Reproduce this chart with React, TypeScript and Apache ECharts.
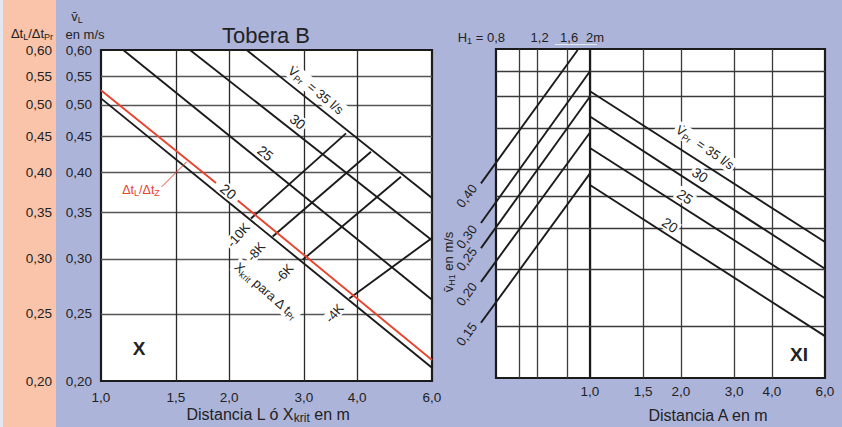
import React, { useEffect, useRef } from "react";
import * as echarts from "echarts";

const FONT = '"Liberation Sans", Arial, Helvetica, sans-serif';
const TEXT = "#222222";
const INK = "#1b1b1b";
const RED = "#e8432d";

// ---------- Left panel X : Tobera B (log L in m  vs  log v in m/s) ----------
const yTicks = [0.2, 0.25, 0.3, 0.35, 0.4, 0.45, 0.5, 0.55, 0.6];
const yTickLabels = ["0,20", "0,25", "0,30", "0,35", "0,40", "0,45", "0,50", "0,55", "0,60"];
const xTicks = [1.0, 1.5, 2.0, 3.0, 4.0, 6.0];
const xTickLabels = ["1,0", "1,5", "2,0", "3,0", "4,0", "6,0"];
const xGridL = [1.5, 2.0, 3.0, 4.0];
const yGridL = [0.25, 0.3, 0.35, 0.4, 0.45, 0.5, 0.55];

// V_Pr lines (l/s)
const vpr20L = [[1.0, 0.511], [6.0, 0.209]];
const vpr25L = [[1.128, 0.6], [6.0, 0.262]];
const vpr30L = [[1.619, 0.6], [6.0, 0.319]];
const vpr35L = [[2.2, 0.6], [6.0, 0.367]];
// Δt_L/Δt_Z (red), broken where the "20" label sits
const ratioLineA = [[1.0, 0.525], [1.864, 0.386]];
const ratioLineB = [[2.096, 0.364], [6.0, 0.2145]];
const ratioLeader = [[1.389, 0.381], [1.59, 0.414]];
// X_krit lines for Δt_Pr
const krit10 = [[2.252, 0.343], [3.767, 0.455]];
const krit8 = [[2.533, 0.323], [4.313, 0.428]];
const krit6 = [[2.98, 0.299], [5.073, 0.394]];
const krit4 = [[3.835, 0.263], [6.0, 0.3215]];

// label anchors (data coords)
const vprLabelsL = [
  { t: "35", at: [3.2, 0.525] },
  { t: "30", at: [2.9, 0.473] },
  { t: "25", at: [2.434, 0.426] },
  { t: "20", at: [1.992, 0.375] },
];
const kritLabels = [
  { t: "-10K", at: [2.103, 0.3247] },
  { t: "-8K", at: [2.314, 0.3072] },
  { t: "-6K", at: [2.697, 0.286] },
  { t: "-4K", at: [3.536, 0.2504] },
];
const kritTitleAt = [2.443, 0.2697];
const ratioLabelAt = [1.242, 0.377];

// ---------- Right panel XI ----------
const xGridR = [1.5, 2.0, 3.0, 4.0];
const yGridR = [0.557, 0.512, 0.461, 0.401, 0.367, 0.33, 0.288, 0.238];
const h1Grid = [1.0, 1.2, 1.6];
const h1Ticks = [1.2, 1.6];
const h1TickLabels = ["1,2", "1,6"];

const vpr35R = [[1.0, 0.521], [6.0, 0.315]];
const vpr30R = [[1.0, 0.479], [6.0, 0.288]];
const vpr25R = [[1.0, 0.431], [6.0, 0.261]];
const vpr20R = [[1.0, 0.381], [6.0, 0.23]];
const vprLabelsR = [
  { t: "35", at: [2.403, 0.432] },
  { t: "30", at: [2.313, 0.394] },
  { t: "25", at: [2.063, 0.3664] },
  { t: "20", at: [1.84, 0.3333] },
];

// v_H1 lines (m/s) on the H1 scale (they start outside the frame)
const vh1_040 = [[0.691, 0.383], [1.774, 0.598]];
const vh1_030 = [[0.691, 0.3356], [2.0, 0.557]];
const vh1_025 = [[0.691, 0.3086], [2.0, 0.512]];
const vh1_020 = [[0.691, 0.2757], [2.0, 0.454]];
const vh1_015 = [[0.691, 0.2405], [2.0, 0.396]];
const vh1Labels = [
  { t: "0,40", at: [0.601, 0.3673] },
  { t: "0,30", at: [0.601, 0.3205] },
  { t: "0,25", at: [0.601, 0.2975] },
  { t: "0,20", at: [0.601, 0.2646] },
  { t: "0,15", at: [0.601, 0.2315] },
];

function lineSeries(data: number[][], gi: number, color: string, width: number, clip = true, z = 3) {
  return {
    type: "line",
    xAxisIndex: gi,
    yAxisIndex: gi,
    data,
    symbol: "none",
    showSymbol: false,
    silent: true,
    clip,
    z,
    lineStyle: { color, width, cap: "butt" },
  };
}

function gridSeries(gi: number, xs: number[], ys: number[], xr: number[], yr: number[], colH: string, colV: string) {
  return [
    {
      type: "lines",
      coordinateSystem: "cartesian2d",
      xAxisIndex: gi,
      yAxisIndex: gi,
      silent: true,
      z: 1,
      data: ys.map((y) => ({ coords: [[xr[0], y], [xr[1], y]] })),
      lineStyle: { color: colH, width: 1.3, opacity: 1, curveness: 0 },
    },
    {
      type: "lines",
      coordinateSystem: "cartesian2d",
      xAxisIndex: gi,
      yAxisIndex: gi,
      silent: true,
      z: 1,
      data: xs.map((x) => ({ coords: [[x, yr[0]], [x, yr[1]]] })),
      lineStyle: { color: colV, width: 1.3, opacity: 1, curveness: 0 },
    },
  ];
}

function rich(size: number, color: string) {
  const sub = Math.round(size * 0.72);
  return {
    n: { fontSize: size, lineHeight: size + 3, fontFamily: FONT, fill: color, verticalAlign: "middle" },
    s: { fontSize: sub, lineHeight: sub + 1, fontFamily: FONT, fill: color, verticalAlign: "bottom" },
  };
}

function txt(x: number, y: number, text: string, o: any = {}) {
  const size = o.fontSize ?? 13;
  const fill = o.fill ?? TEXT;
  const style: any = {
    text,
    fontFamily: FONT,
    fontSize: size,
    fontWeight: o.fontWeight ?? "normal",
    fill,
    align: o.align ?? "center",
    verticalAlign: "middle",
  };
  if (o.rich) style.rich = rich(size, fill);
  if (o.bg) {
    style.backgroundColor = o.bg;
    style.padding = [0, 2];
  }
  return { type: "text", x, y, rotation: o.rotation ?? 0, z: 100, silent: true, style };
}

function buildOption() {
  const axis = { type: "log", logBase: 10, show: false };
  const gridBase = {
    show: true,
    backgroundColor: "#ffffff",
    borderColor: INK,
    borderWidth: 2.2,
    containLabel: false,
    outerBoundsMode: "none",
  };
  return {
    animation: false,
    textStyle: { fontFamily: FONT },
    grid: [
      { ...gridBase, left: 101, top: 50, width: 331, height: 331 },
      { ...gridBase, left: 590, top: 49, width: 235, height: 329 },
      { ...gridBase, left: 496, top: 49, width: 94, height: 329 },
      // same H1 scale as grid 2, extended to the left (invisible) for the v_H1 lines
      { show: false, containLabel: false, outerBoundsMode: "none", left: 466.5, top: 49, width: 123.5, height: 329 },
    ],
    xAxis: [
      { ...axis, gridIndex: 0, min: 1, max: 6 },
      { ...axis, gridIndex: 1, min: 1, max: 6 },
      { ...axis, gridIndex: 2, min: 0.8, max: 2.0 },
      { ...axis, gridIndex: 3, min: 0.6, max: 2.0 },
    ],
    yAxis: [
      { ...axis, gridIndex: 0, min: 0.2, max: 0.6 },
      { ...axis, gridIndex: 1, min: 0.2, max: 0.6 },
      { ...axis, gridIndex: 2, min: 0.2, max: 0.6 },
      { ...axis, gridIndex: 3, min: 0.2, max: 0.6 },
    ],
    series: [
      ...gridSeries(0, xGridL, yGridL, [1, 6], [0.2, 0.6], "#555555", "#2a2a2a"),
      ...gridSeries(1, xGridR, yGridR, [1, 6], [0.2, 0.6], "#3a3a3a", "#3a3a3a"),
      ...gridSeries(2, h1Grid, yGridR, [0.8, 2.0], [0.2, 0.6], "#3a3a3a", "#3a3a3a"),
      lineSeries(vpr20L, 0, INK, 1.9),
      lineSeries(vpr25L, 0, INK, 1.9),
      lineSeries(vpr30L, 0, INK, 1.9),
      lineSeries(vpr35L, 0, INK, 1.9),
      lineSeries(krit10, 0, INK, 1.9),
      lineSeries(krit8, 0, INK, 1.9),
      lineSeries(krit6, 0, INK, 1.9),
      lineSeries(krit4, 0, INK, 1.9),
      lineSeries(ratioLineA, 0, RED, 1.9, true, 4),
      lineSeries(ratioLineB, 0, RED, 1.9, true, 4),
      lineSeries(ratioLeader, 0, RED, 1, true, 4),
      lineSeries(vpr35R, 1, INK, 1.9),
      lineSeries(vpr30R, 1, INK, 1.9),
      lineSeries(vpr25R, 1, INK, 1.9),
      lineSeries(vpr20R, 1, INK, 1.9),
      lineSeries(vh1_040, 3, INK, 1.9, false),
      lineSeries(vh1_030, 3, INK, 1.9, false),
      lineSeries(vh1_025, 3, INK, 1.9, false),
      lineSeries(vh1_020, 3, INK, 1.9, false),
      lineSeries(vh1_015, 3, INK, 1.9, false),
    ],
  };
}

function buildGraphics(P: (g: number, x: number, y: number) => number[]) {
  const els: any[] = [];
  // left column headers
  els.push(txt(32, 33, "{n|Δt}{s|L}{n|/Δt}{s|Pr}", { rich: true }));
  els.push(txt(77, 16, "{n|v\u0304}{s|L}", { rich: true }));
  els.push(txt(85, 34, "en m/s"));
  // left y tick labels (two columns)
  yTicks.forEach((v, i) => {
    const py = P(0, 1, v)[1];
    els.push(txt(52, py, yTickLabels[i], { align: "right", fontSize: 13.5 }));
    els.push(txt(92, py, yTickLabels[i], { align: "right", fontSize: 13.5 }));
  });
  // left x tick labels
  xTicks.forEach((x, i) => {
    const px = P(0, x, 0.2)[0];
    els.push(txt(px, 397, xTickLabels[i], { fontSize: 13.5 }));
  });
  els.push(txt(268, 414, "{n|Distancia L ó X}{s|krit}{n| en m}", { rich: true, fontSize: 16 }));
  els.push(txt(266, 35, "Tobera B", { fontSize: 22 }));
  els.push(txt(139, 348, "X", { fontSize: 19, fontWeight: "bold" }));

  // left annotations
  vprLabelsL.forEach((l, i) => {
    const [px, py] = P(0, l.at[0], l.at[1]);
    if (i === 0) {
      els.push(txt(px, py, "{n|V\u0307}{s|Pr}{n|  = 35 l/s}", { rich: true, rotation: -0.69, bg: "#ffffff" }));
    } else {
      els.push(txt(px, py, l.t, { rotation: -0.68, bg: "#ffffff", fontSize: 14 }));
    }
  });
  kritLabels.forEach((l) => {
    const [px, py] = P(0, l.at[0], l.at[1]);
    els.push(txt(px, py, l.t, { rotation: 0.85, bg: "#ffffff" }));
  });
  {
    const [px, py] = P(0, kritTitleAt[0], kritTitleAt[1]);
    els.push(txt(px, py, "{n|X}{s|krit}{n| para Δ t}{s|Pr}", { rich: true, rotation: -0.72, bg: "#ffffff" }));
  }
  {
    const [px, py] = P(0, ratioLabelAt[0], ratioLabelAt[1]);
    els.push(txt(px, py, "{n|Δt}{s|L}{n|/Δt}{s|Z}", { rich: true, fill: RED, fontSize: 12.5 }));
  }

  // right x tick labels
  xTicks.forEach((x, i) => {
    const px = P(1, x, 0.2)[0];
    els.push(txt(px, 391, xTickLabels[i], { fontSize: 13.5 }));
  });
  els.push(txt(708, 415, "Distancia A en m", { fontSize: 16 }));
  els.push(txt(799, 354, "XI", { fontSize: 19, fontWeight: "bold" }));

  // H1 scale labels on top
  {
    const p08 = P(2, 0.8, 0.6)[0];
    els.push(txt(p08 + 9, 37, "{n|H}{s|1}{n| = 0,8}", { rich: true, align: "right" }));
    h1Ticks.forEach((h, i) => {
      const px = P(2, h, 0.6)[0];
      els.push(txt(px + 2, 37, h1TickLabels[i]));
    });
    const p2 = P(2, 2.0, 0.6)[0];
    els.push(txt(p2 - 4, 37, "2m", { align: "left" }));
    const u0 = P(2, 1.42, 0.6)[0];
    const u1 = P(2, 2.14, 0.6)[0];
    els.push({
      type: "line",
      z: 100,
      silent: true,
      shape: { x1: u0, y1: 44.5, x2: u1, y2: 44.5 },
      style: { stroke: "#e6e8f4", lineWidth: 1.2 },
    });
  }
  // v_H1 labels
  vh1Labels.forEach((l) => {
    const [px, py] = P(3, l.at[0], l.at[1]);
    els.push(txt(px, py, l.t, { rotation: 0.94 }));
  });
  els.push(txt(448, 262, "{n|v\u0304}{s|H1}{n| en m/s}", { rich: true, rotation: Math.PI / 2 }));

  // right V_Pr labels
  vprLabelsR.forEach((l, i) => {
    const [px, py] = P(1, l.at[0], l.at[1]);
    if (i === 0) {
      els.push(txt(px, py, "{n|V\u0307}{s|Pr}{n|  = 35 l/s}", { rich: true, rotation: -0.6, bg: "#ffffff" }));
    } else {
      els.push(txt(px, py, l.t, { rotation: -0.6, bg: "#ffffff", fontSize: 14 }));
    }
  });
  return els;
}

export default function App() {
  const ref = useRef<HTMLDivElement>(null);
  useEffect(() => {
    const el = ref.current;
    if (!el) return;
    const chart = echarts.init(el, null, { renderer: "svg" });
    chart.setOption(buildOption() as any);
    const P = (g: number, x: number, y: number) =>
      chart.convertToPixel({ gridIndex: g } as any, [x, y]) as unknown as number[];
    chart.setOption({ graphic: { elements: buildGraphics(P) } } as any);
    return () => chart.dispose();
  }, []);
  return (
    <div
      ref={ref}
      style={{
        position: "fixed",
        left: 0,
        top: 0,
        width: 842,
        height: 427,
        background:
          "linear-gradient(to right, #e4e6f2 0px, #e4e6f2 3px, #f9c4aa 3px, #f9c4aa 56px, #adb4da 56px, #adb4da 100%)",
      }}
    />
  );
}
